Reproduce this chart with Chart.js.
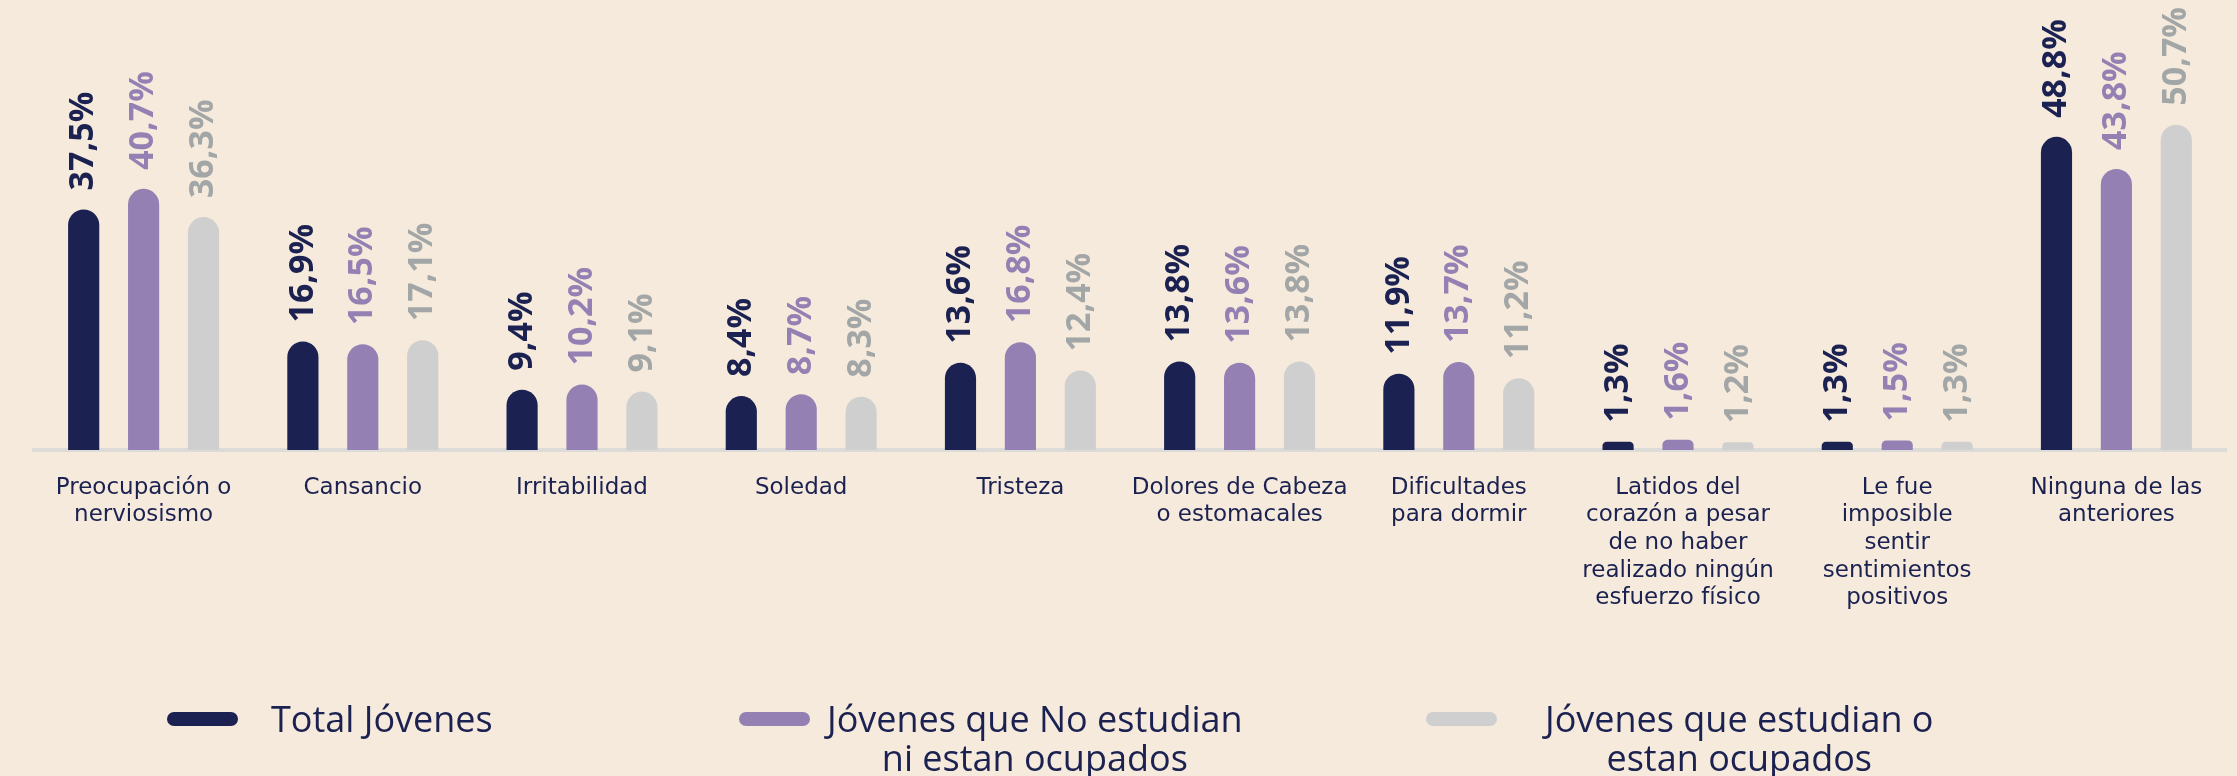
<!DOCTYPE html>
<html lang="es">
<head>
<meta charset="UTF-8">
<title>Síntomas jóvenes</title>
<script src="https://cdn.jsdelivr.net/npm/chart.js@4.4.1/dist/chart.umd.min.js"></script>
<style>
    html, body {
        margin: 0;
        padding: 0;
        background: #f5eadb;
    }
    #wrap {
        position: relative;
        width: 2237px;
        height: 776px;
        overflow: hidden;
    }
    #legend .item {
        position: absolute;
        top: 699px;
    }
    #legend .swatch {
        position: absolute;
        width: 71px;
        height: 14px;
        border-radius: 7px;
        top: 13px;
    }
    #legend .txt {
        position: absolute;
        text-align: center;
        white-space: nowrap;
        font-family: "Open Sans", sans-serif;
        font-size: 36px;
        line-height: 39px;
        color: #1b2150;
    }
</style>
</head>
<body>
<div id="wrap">
    <canvas id="chartCanvas"></canvas>
    <div id="legend"></div>
</div>
<script>
// DATOS
const categorias = [
    ["Preocupación o", "nerviosismo"],
    "Cansancio",
    "Irritabilidad",
    "Soledad",
    "Tristeza",
    ["Dolores de Cabeza", "o estomacales"],
    ["Dificultades", "para dormir"],
    ["Latidos del", "corazón a pesar", "de no haber", "realizado ningún", "esfuerzo físico"],
    ["Le fue", "imposible", "sentir", "sentimientos", "positivos"],
    ["Ninguna de las", "anteriores"]
];

const totalJovenes = [37.5, 16.9, 9.4, 8.4, 13.6, 13.8, 11.9, 1.3, 1.3, 48.8];
const noEstudianNiOcupados = [40.7, 16.5, 10.2, 8.7, 16.8, 13.6, 13.7, 1.6, 1.5, 43.8];
const estudianUOcupados = [36.3, 17.1, 9.1, 8.3, 12.4, 13.8, 11.2, 1.2, 1.3, 50.7];

const nombresSeries = [
    ["Total Jóvenes"],
    ["Jóvenes que No estudian", "ni estan ocupados"],
    ["Jóvenes que estudian o", "estan ocupados"]
];

const coloresBarra = ["#1b2150", "#9580b4", "#cfcfcf"];
const coloresTexto = ["#1b2150", "#9580b4", "#a2a6a6"];

// posiciones de la leyenda (swatch, texto)
const leyendaPos = [[167, 271], [739, 827], [1426, 1545]];

// etiquetas de valor giradas
const etiquetasValor = {
    id: "etiquetasValor",
    afterDatasetsDraw(chart) {
        const ctx = chart.ctx;
        chart.data.datasets.forEach((ds, i) => {
            const meta = chart.getDatasetMeta(i);
            meta.data.forEach((bar, j) => {
                const txt = ds.data[j].toFixed(1).replace(".", ",") + "%";
                ctx.save();
                ctx.translate(bar.x, bar.y - 19);
                ctx.rotate(-Math.PI / 2);
                ctx.font = "bold 34px 'Open Sans'";
                ctx.fillStyle = coloresTexto[i];
                ctx.textAlign = "left";
                ctx.textBaseline = "middle";
                ctx.fillText(txt, 0, 0);
                ctx.restore();
            });
        });
    }
};

document.addEventListener("DOMContentLoaded", function () {
    const chartCanvas = document.getElementById("chartCanvas").getContext("2d");

    const series = [totalJovenes, noEstudianNiOcupados, estudianUOcupados];

    const chart = new Chart(chartCanvas, {
        type: "bar",
        data: {
            labels: categorias,
            datasets: series.map((valores, i) => ({
                label: nombresSeries[i].join(" "),
                data: valores,
                backgroundColor: coloresBarra[i],
                borderWidth: 0,
                borderRadius: { topLeft: 16, topRight: 16, bottomLeft: 0, bottomRight: 0 },
                borderSkipped: false,
                categoryPercentage: 0.82,
                barPercentage: 0.52
            }))
        },
        options: {
            responsive: true,
            maintainAspectRatio: false,
            animation: false,
            layout: {
                padding: { top: 65, left: 34, right: 11, bottom: 126 }
            },
            plugins: {
                legend: { display: false },
                tooltip: { enabled: false }
            },
            scales: {
                x: {
                    grid: { display: true, color: "transparent", drawTicks: false },
                    border: { display: true, color: "#dcdbd8", width: 4 },
                    ticks: {
                        autoSkip: false,
                        maxRotation: 0,
                        minRotation: 0,
                        padding: 24,
                        color: "#1b2150",
                        font: { family: "'DejaVu Sans'", size: 23, lineHeight: 1.2 }
                    },
                    afterFit(scale) {
                        scale.height = 200;
                    }
                },
                y: {
                    display: false,
                    min: 0,
                    max: 60
                }
            }
        },
        plugins: [etiquetasValor]
    });

    // LEYENDA
    const legend = document.getElementById("legend");
    chart.data.datasets.forEach((ds, i) => {
        const item = document.createElement("div");
        item.className = "item";
        item.innerHTML =
            `<div class="swatch" style="left:${leyendaPos[i][0]}px;background:${coloresBarra[i]}"></div>` +
            `<div class="txt" style="left:${leyendaPos[i][1]}px">${nombresSeries[i].join("<br>")}</div>`;
        legend.appendChild(item);
    });
});
</script>
</body>
</html>
